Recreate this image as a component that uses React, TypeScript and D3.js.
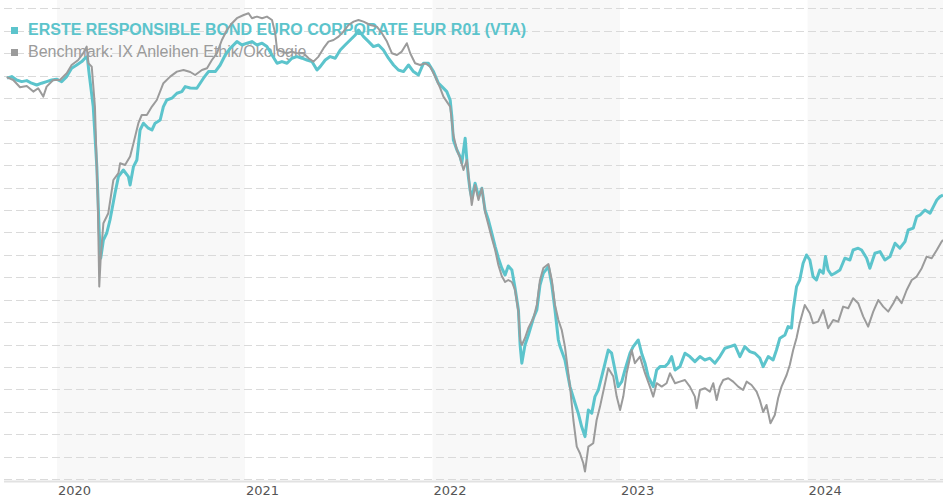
import React from "react";
import * as d3 from "d3";

// Decimal year, index value
const fundSeries: [number, number][] = [
  [2019.734, 99.99], [2019.759, 100.07], [2019.785, 99.9], [2019.812, 99.82], [2019.839, 99.87], [2019.865, 99.74],
  [2019.892, 99.65], [2019.918, 99.74], [2019.945, 99.82], [2019.972, 99.9], [2019.998, 99.94], [2020.025, 99.82],
  [2020.052, 100.07], [2020.078, 100.49], [2020.105, 100.65], [2020.132, 100.82], [2020.149, 100.99], [2020.161, 101.07],
  [2020.172, 100.15], [2020.193, 98.57], [2020.212, 95.57], [2020.225, 92.25], [2020.233, 91.0], [2020.247, 91.9],
  [2020.265, 92.25], [2020.282, 92.9], [2020.309, 94.25], [2020.327, 95.07], [2020.353, 95.4], [2020.38, 95.07],
  [2020.389, 94.65], [2020.407, 95.57], [2020.425, 95.9], [2020.442, 97.4], [2020.46, 97.74], [2020.486, 97.49],
  [2020.505, 97.4], [2020.522, 97.74], [2020.549, 97.9], [2020.566, 98.57], [2020.584, 98.9], [2020.611, 98.99],
  [2020.638, 99.24], [2020.664, 99.32], [2020.682, 99.57], [2020.709, 99.5], [2020.744, 99.49], [2020.779, 99.99],
  [2020.806, 100.32], [2020.842, 100.32], [2020.868, 100.65], [2020.895, 101.15], [2020.922, 101.49], [2020.957, 101.82],
  [2020.984, 101.65], [2021.011, 101.74], [2021.037, 101.82], [2021.064, 101.65], [2021.091, 101.74], [2021.117, 101.57],
  [2021.144, 101.15], [2021.171, 100.74], [2021.197, 100.82], [2021.224, 100.74], [2021.25, 100.99], [2021.277, 101.07],
  [2021.304, 100.99], [2021.33, 100.9], [2021.357, 100.82], [2021.384, 100.4], [2021.401, 100.57], [2021.428, 100.9],
  [2021.454, 101.07], [2021.481, 100.99], [2021.508, 101.4], [2021.534, 101.65], [2021.561, 101.9], [2021.588, 102.15],
  [2021.605, 102.4], [2021.632, 102.07], [2021.659, 101.82], [2021.685, 101.57], [2021.712, 101.65], [2021.738, 101.4],
  [2021.765, 100.99], [2021.792, 100.65], [2021.818, 100.4], [2021.845, 100.32], [2021.872, 100.65], [2021.898, 100.32],
  [2021.925, 100.15], [2021.952, 100.74], [2021.978, 100.74], [2022.005, 100.32], [2022.031, 99.74], [2022.05, 99.57],
  [2022.076, 99.32], [2022.094, 98.9], [2022.103, 98.07], [2022.111, 96.9], [2022.13, 96.4], [2022.147, 96.07],
  [2022.156, 95.74], [2022.174, 96.99], [2022.183, 95.9], [2022.191, 95.07], [2022.2, 94.4], [2022.209, 94.0],
  [2022.227, 94.74], [2022.245, 94.07], [2022.263, 94.49], [2022.28, 93.4], [2022.298, 92.9], [2022.316, 92.24],
  [2022.334, 91.57], [2022.351, 91.0], [2022.369, 90.5], [2022.387, 90.15], [2022.404, 90.6], [2022.423, 90.4],
  [2022.44, 89.5], [2022.458, 88.4], [2022.467, 86.65], [2022.476, 85.74], [2022.493, 86.65], [2022.511, 87.15],
  [2022.538, 88.0], [2022.556, 88.4], [2022.573, 89.65], [2022.591, 90.24], [2022.618, 90.57], [2022.636, 89.65],
  [2022.653, 88.4], [2022.671, 86.9], [2022.68, 86.57], [2022.706, 85.9], [2022.733, 84.57], [2022.76, 83.74],
  [2022.777, 83.24], [2022.795, 82.57], [2022.813, 82.07], [2022.831, 83.4], [2022.849, 83.24], [2022.866, 84.07],
  [2022.884, 84.4], [2022.902, 85.07], [2022.92, 85.74], [2022.937, 86.4], [2022.955, 86.24], [2022.973, 85.4],
  [2022.99, 84.57], [2023.009, 84.82], [2023.026, 85.4], [2023.053, 86.24], [2023.07, 86.57], [2023.097, 86.9],
  [2023.115, 86.24], [2023.133, 85.74], [2023.15, 85.07], [2023.177, 84.57], [2023.195, 85.4], [2023.213, 85.57],
  [2023.239, 85.57], [2023.257, 85.74], [2023.275, 86.07], [2023.293, 85.4], [2023.319, 85.57], [2023.346, 86.24],
  [2023.372, 86.07], [2023.399, 85.82], [2023.426, 86.07], [2023.452, 85.9], [2023.479, 85.99], [2023.506, 85.74],
  [2023.532, 86.07], [2023.559, 86.49], [2023.586, 86.57], [2023.612, 86.65], [2023.639, 86.07], [2023.665, 86.57],
  [2023.692, 86.32], [2023.719, 86.24], [2023.745, 86.0], [2023.763, 85.57], [2023.79, 86.07], [2023.816, 85.9],
  [2023.834, 86.4], [2023.852, 86.99], [2023.879, 87.15], [2023.896, 87.57], [2023.914, 87.5], [2023.923, 88.4],
  [2023.941, 89.57], [2023.958, 89.9], [2023.976, 90.74], [2023.994, 91.15], [2024.012, 90.9], [2024.029, 90.07],
  [2024.047, 89.9], [2024.065, 90.4], [2024.083, 90.24], [2024.095, 91.07], [2024.109, 90.4], [2024.127, 90.15],
  [2024.145, 90.24], [2024.172, 90.4], [2024.198, 90.99], [2024.225, 90.9], [2024.242, 91.4], [2024.269, 91.49],
  [2024.287, 91.4], [2024.314, 90.99], [2024.331, 90.49], [2024.358, 91.24], [2024.385, 91.32], [2024.411, 90.9],
  [2024.438, 91.07], [2024.465, 91.74], [2024.491, 91.49], [2024.518, 91.82], [2024.535, 92.4], [2024.562, 92.49],
  [2024.58, 93.07], [2024.598, 93.15], [2024.624, 93.4], [2024.651, 93.24], [2024.669, 93.57], [2024.687, 93.9],
  [2024.704, 94.07], [2024.72, 94.15],
];

const benchSeries: [number, number][] = [
  [2019.732, 100.04], [2019.767, 99.9], [2019.803, 99.54], [2019.839, 99.6], [2019.874, 99.32], [2019.9, 99.49],
  [2019.927, 99.07], [2019.945, 99.57], [2019.98, 99.9], [2020.016, 99.9], [2020.052, 100.24], [2020.078, 100.65],
  [2020.113, 100.9], [2020.14, 101.24], [2020.158, 101.57], [2020.167, 100.74], [2020.185, 100.57], [2020.202, 98.57],
  [2020.217, 93.9], [2020.225, 89.57], [2020.233, 91.07], [2020.247, 92.74], [2020.273, 93.24], [2020.3, 94.9],
  [2020.327, 95.24], [2020.336, 95.74], [2020.362, 95.65], [2020.389, 96.07], [2020.407, 96.74], [2020.433, 97.74],
  [2020.451, 98.15], [2020.478, 98.15], [2020.505, 98.57], [2020.531, 98.9], [2020.566, 99.74], [2020.602, 100.07],
  [2020.638, 100.32], [2020.673, 100.4], [2020.709, 100.3], [2020.735, 100.15], [2020.771, 100.4], [2020.798, 100.49],
  [2020.824, 100.9], [2020.851, 101.24], [2020.877, 101.9], [2020.904, 102.4], [2020.931, 102.74], [2020.957, 102.99],
  [2020.993, 103.15], [2021.019, 103.24], [2021.037, 102.99], [2021.064, 103.07], [2021.091, 102.99], [2021.117, 103.07],
  [2021.144, 102.9], [2021.161, 102.24], [2021.171, 101.4], [2021.197, 101.32], [2021.224, 101.24], [2021.25, 101.32],
  [2021.277, 101.24], [2021.312, 101.24], [2021.339, 100.99], [2021.365, 100.82], [2021.392, 101.07], [2021.419, 101.49],
  [2021.445, 101.82], [2021.472, 101.9], [2021.499, 102.07], [2021.525, 102.32], [2021.552, 102.65], [2021.579, 102.82],
  [2021.605, 102.9], [2021.632, 102.82], [2021.668, 102.65], [2021.703, 102.57], [2021.73, 102.24], [2021.757, 101.82],
  [2021.783, 101.24], [2021.81, 101.15], [2021.836, 101.32], [2021.863, 101.74], [2021.881, 101.24], [2021.907, 100.74],
  [2021.934, 100.65], [2021.961, 100.74], [2021.987, 100.57], [2022.014, 100.07], [2022.041, 99.49], [2022.058, 99.07],
  [2022.094, 98.57], [2022.111, 97.15], [2022.13, 96.4], [2022.147, 96.0], [2022.165, 95.4], [2022.183, 95.9],
  [2022.2, 94.4], [2022.209, 93.65], [2022.227, 94.65], [2022.245, 93.9], [2022.263, 94.49], [2022.28, 93.3],
  [2022.298, 92.65], [2022.316, 92.0], [2022.334, 91.4], [2022.351, 90.65], [2022.369, 90.1], [2022.387, 89.8],
  [2022.404, 89.9], [2022.423, 89.8], [2022.44, 89.4], [2022.458, 88.3], [2022.467, 86.9], [2022.476, 86.65],
  [2022.493, 87.0], [2022.511, 87.5], [2022.538, 88.0], [2022.556, 88.65], [2022.573, 89.9], [2022.591, 90.5],
  [2022.618, 90.7], [2022.636, 89.9], [2022.653, 88.65], [2022.671, 87.9], [2022.689, 87.4], [2022.706, 86.57],
  [2022.733, 84.57], [2022.751, 82.9], [2022.769, 81.57], [2022.786, 81.24], [2022.804, 80.74], [2022.813, 80.32],
  [2022.831, 81.57], [2022.857, 81.74], [2022.875, 82.9], [2022.893, 83.57], [2022.92, 84.74], [2022.937, 85.49],
  [2022.964, 85.07], [2022.982, 84.07], [2023.0, 83.4], [2023.017, 84.07], [2023.035, 85.24], [2023.062, 86.4],
  [2023.079, 85.74], [2023.106, 86.07], [2023.133, 85.24], [2023.159, 84.57], [2023.177, 84.07], [2023.195, 84.74],
  [2023.222, 84.57], [2023.248, 84.74], [2023.266, 85.24], [2023.293, 84.74], [2023.319, 84.82], [2023.346, 84.9],
  [2023.372, 84.57], [2023.399, 84.07], [2023.408, 83.49], [2023.426, 84.4], [2023.452, 84.49], [2023.479, 84.32],
  [2023.497, 84.74], [2023.515, 83.9], [2023.532, 84.57], [2023.55, 84.9], [2023.577, 84.99], [2023.603, 84.82],
  [2023.63, 84.57], [2023.656, 84.4], [2023.675, 84.82], [2023.701, 84.65], [2023.728, 84.32], [2023.745, 83.9],
  [2023.763, 83.3], [2023.781, 83.65], [2023.802, 82.74], [2023.825, 83.15], [2023.843, 84.0], [2023.861, 84.57],
  [2023.888, 85.15], [2023.905, 85.65], [2023.923, 86.4], [2023.941, 87.0], [2023.958, 87.75], [2023.985, 88.65],
  [2024.012, 88.24], [2024.029, 87.74], [2024.056, 87.82], [2024.083, 88.4], [2024.109, 87.49], [2024.136, 87.9],
  [2024.163, 87.82], [2024.189, 88.57], [2024.216, 88.49], [2024.242, 88.99], [2024.269, 88.74], [2024.296, 88.07],
  [2024.322, 87.57], [2024.349, 88.32], [2024.376, 88.9], [2024.402, 88.57], [2024.429, 88.32], [2024.456, 88.74],
  [2024.474, 89.07], [2024.5, 88.74], [2024.527, 89.4], [2024.554, 89.9], [2024.58, 90.07], [2024.607, 90.49],
  [2024.633, 91.07], [2024.66, 90.99], [2024.687, 91.4], [2024.713, 91.82], [2024.72, 91.9],
];

const yearTicks = [2020, 2021, 2022, 2023, 2024];
const shadedYears = [2020, 2022, 2024];
const seriesNames = [
  "ERSTE RESPONSIBLE BOND EURO CORPORATE EUR R01 (VTA)",
  "Benchmark: IX Anleihen Ethik/Ökologie",
];
const timeDomain = [2019.723, 2024.72];
const valueDomain = [79.9, 103.9];
const gridBase = 79.945;
const gridStep = 1.121;
const gridCount = 22;

const W = 943;
const H = 500;
const FUND_COLOR = "#5cc4cc";
const BENCH_COLOR = "#9b9b9b";

const toDate = (t: number) => {
  const y = Math.floor(t);
  const s = Date.UTC(y, 0, 1);
  const e = Date.UTC(y + 1, 0, 1);
  return new Date(s + (t - y) * (e - s));
};

export default function App() {
  const x = d3
    .scaleUtc()
    .domain([toDate(timeDomain[0]), toDate(timeDomain[1])])
    .range([5, 943]);
  const y = d3.scaleLinear().domain(valueDomain).range([480, 0]);

  const line = d3
    .line<[number, number]>()
    .x((d) => x(toDate(d[0])))
    .y((d) => y(d[1]));

  const grid = d3.range(gridCount).map((i) => gridBase + i * gridStep);
  const axisY = 481;

  return (
    <svg
      width={W}
      height={H}
      style={{ position: "absolute", left: 0, top: 0, background: "#fff" }}
    >
      {shadedYears.map((yr) => {
        const x0 = x(toDate(yr));
        const x1 = Math.min(943, x(toDate(yr + 1)));
        return <rect key={yr} x={x0} y={0} width={x1 - x0} height={axisY - 1} fill="#f8f8f8" />;
      })}
      {grid.map((g, i) => (
        <line
          key={i}
          x1={4}
          x2={943}
          y1={Math.round(y(g)) + 0.5}
          y2={Math.round(y(g)) + 0.5}
          stroke="#dadada"
          strokeWidth={1}
          strokeDasharray="8,4"
        />
      ))}
      <line x1={4} x2={943} y1={axisY + 0.5} y2={axisY + 0.5} stroke="#e2e2e2" strokeWidth={2} />
      {yearTicks.map((yr) => (
        <text
          key={yr}
          x={x(toDate(yr)) + 1}
          y={495}
          fontFamily="DejaVu Sans, sans-serif"
          fontSize={13}
          fill="#555"
        >
          {yr}
        </text>
      ))}
      <g fontFamily="Liberation Sans, Arial, sans-serif" fontSize={16}>
        <rect x={11} y={27} width={7} height={7} fill={FUND_COLOR} />
        <text x={28} y={35} fill={FUND_COLOR} fontWeight="bold">
          {seriesNames[0]}
        </text>
        <rect x={11} y={49} width={7} height={7} fill={BENCH_COLOR} />
        <text x={28} y={57} fill={BENCH_COLOR}>
          {seriesNames[1]}
        </text>
      </g>
      <path d={line(fundSeries) || ""} fill="none" stroke={FUND_COLOR} strokeWidth={3} strokeLinejoin="round" />
      <path d={line(benchSeries) || ""} fill="none" stroke={BENCH_COLOR} strokeWidth={2} strokeLinejoin="round" />
    </svg>
  );
}
